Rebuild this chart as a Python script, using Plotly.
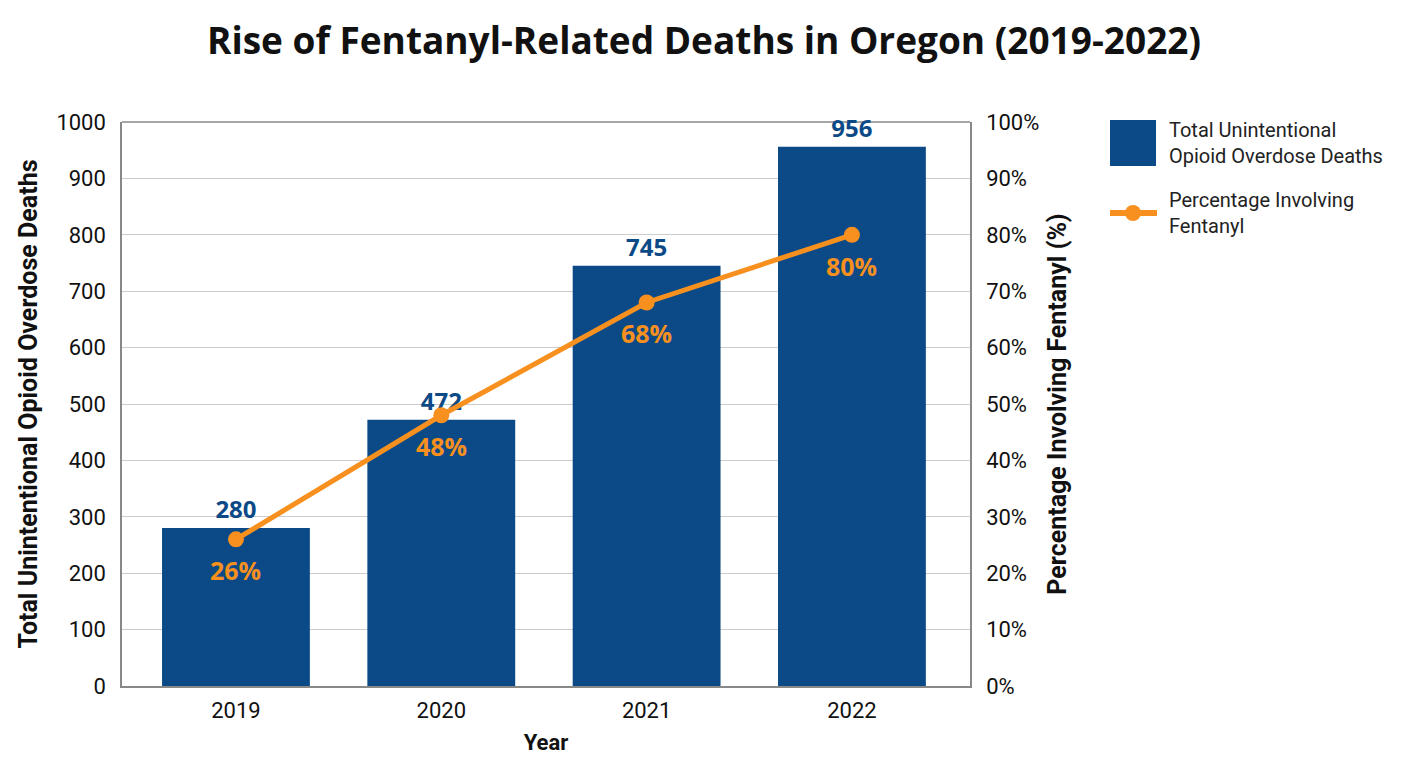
import plotly.graph_objects as go

years = ["2019", "2020", "2021", "2022"]
deaths = [280, 472, 745, 956]
pct_fentanyl = [26, 48, 68, 80]
left_ticks = [0, 100, 200, 300, 400, 500, 600, 700, 800, 900, 1000]
right_ticks = [0, 10, 20, 30, 40, 50, 60, 70, 80, 90, 100]
right_tick_labels = [f"{v}%" for v in right_ticks]

BLUE = "#0b4a86"
ORANGE = "#f7901e"
TICK_FONT = dict(family="Roboto", size=22, color="#111111")

fig = go.Figure()
fig.add_trace(go.Bar(
    x=years, y=deaths, marker=dict(color=BLUE, line=dict(width=0)),
    width=0.72, name="Total Unintentional Opioid Overdose Deaths",
    texttemplate="<b>%{y}</b>", textposition="outside", cliponaxis=False,
    constraintext="none",
    textfont=dict(family="Open Sans", size=24, color=BLUE),
    showlegend=False, yaxis="y",
))
fig.add_trace(go.Scatter(
    x=years, y=pct_fentanyl, mode="lines+markers",
    line=dict(color=ORANGE, width=5),
    marker=dict(color=ORANGE, size=16),
    name="Percentage Involving Fentanyl", showlegend=False, yaxis="y2",
))

# percentage labels (x as category index)
for i, p in enumerate(pct_fentanyl):
    fig.add_annotation(x=i, y=p, xref="x", yref="y2", text=f"<b>{p}%</b>",
                       showarrow=False, yshift=-31,
                       font=dict(family="Open Sans", size=25, color=ORANGE))

# top frame line drawn beneath the traces so labels sit on top of it
fig.add_shape(type="line", xref="paper", yref="paper", x0=0, x1=1, y0=1, y1=1,
              line=dict(color="#888888", width=1.5), layer="below")

# custom legend
fig.add_shape(type="rect", xref="paper", yref="paper",
              x0=(1110 - 122) / 848, x1=(1156 - 122) / 848,
              y0=(686 - 166) / 564, y1=(686 - 120) / 564,
              fillcolor=BLUE, line=dict(width=0))
fig.add_shape(type="line", xref="paper", yref="paper",
              x0=(1110 - 122) / 848, x1=(1157 - 122) / 848,
              y0=(686 - 213) / 564, y1=(686 - 213) / 564,
              line=dict(color=ORANGE, width=6))
fig.add_shape(type="circle", xref="paper", yref="paper",
              x0=(1125 - 122) / 848, x1=(1141 - 122) / 848,
              y0=(686 - 221) / 564, y1=(686 - 205) / 564,
              fillcolor=ORANGE, line=dict(width=0))
fig.add_annotation(xref="paper", yref="paper", x=(1167 - 122) / 848,
                   y=(686 - 143) / 564, xanchor="left", yanchor="middle",
                   align="left", showarrow=False,
                   text="Total Unintentional<br>Opioid Overdose Deaths",
                   font=dict(family="Roboto", size=20, color="#222222"))
fig.add_annotation(xref="paper", yref="paper", x=(1167 - 122) / 848,
                   y=(686 - 213) / 564, xanchor="left", yanchor="middle",
                   align="left", showarrow=False,
                   text="Percentage Involving<br>Fentanyl",
                   font=dict(family="Roboto", size=20, color="#222222"))

fig.update_layout(
    width=1408, height=768,
    margin=dict(l=122, r=438, t=122, b=82),
    paper_bgcolor="white", plot_bgcolor="white",
    title=dict(text="<b>Rise of Fentanyl-Related Deaths in Oregon (2019-2022)</b>",
               x=0.5, xanchor="center", y=0.947, yanchor="middle",
               font=dict(family="Open Sans", size=37, color="#111111")),
    xaxis=dict(type="category", range=[-0.555, 3.575],
               tickfont=TICK_FONT, ticks="", showgrid=False,
               ticklabelstandoff=4,
               showline=True, linecolor="#888888", linewidth=1.5, mirror=False,
               title=dict(text="<b>Year</b>",
                          font=dict(family="Roboto", size=22, color="#111111"),
                          standoff=12)),
    yaxis=dict(range=[0, 1000], tickvals=left_ticks, tickfont=TICK_FONT,
               showgrid=True, gridcolor="#cccccc", gridwidth=1,
               showline=True, linecolor="#888888", linewidth=1.5,
               ticks="", zeroline=False, ticklabelstandoff=10,
               title=dict(text="<b>Total Unintentional Opioid Overdose Deaths</b>",
                          font=dict(family="Roboto", size=25, color="#111111"),
                          standoff=12)),
    yaxis2=dict(range=[0, 100], tickvals=right_ticks, ticktext=right_tick_labels,
                tickfont=TICK_FONT, overlaying="y", side="right",
                showgrid=False, showline=True, linecolor="#888888", linewidth=1.5,
                ticks="", zeroline=False, ticklabelstandoff=10,
                title=dict(text="<b>Percentage Involving Fentanyl (%)</b>",
                           font=dict(family="Roboto", size=25, color="#111111"),
                           standoff=10)),
    showlegend=False,
)

fig.write_html("out.html")
